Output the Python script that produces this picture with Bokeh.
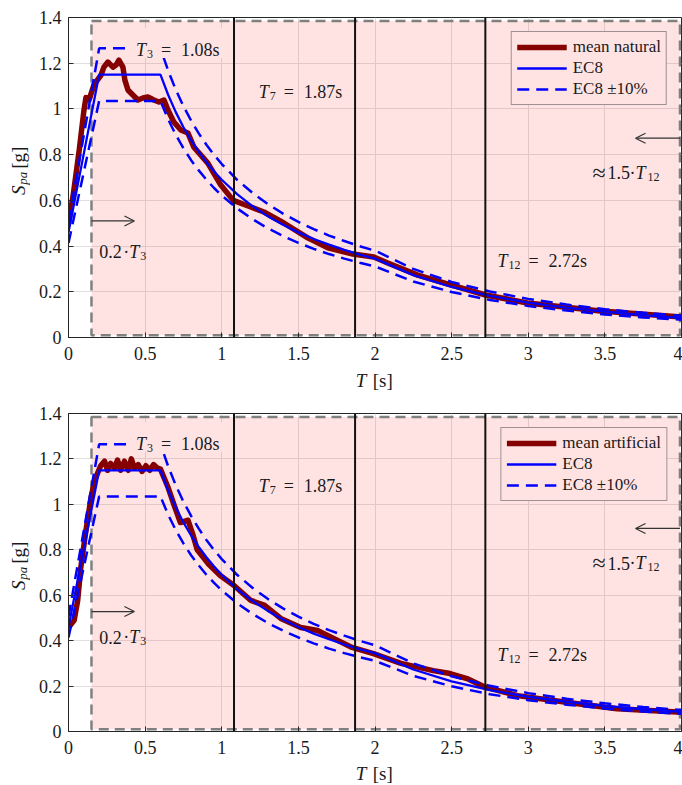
from math import pi

from bokeh.embed import file_html
from bokeh.layouts import column, row
from bokeh.models import (Arrow, BoxAnnotation, CustomJSTickFormatter, FixedTicker,
                          Label, Legend, OpenHead, Range1d, Span)
from bokeh.plotting import figure
from bokeh.resources import INLINE

# ---------------------------------------------------------------- data
# EC8 elastic design spectrum, periods [s] and pseudo-accelerations [g]
ec8_T = [0.0, 0.2, 0.6, 0.65, 0.7, 0.75, 0.8, 0.85, 0.9, 0.95, 1.0, 1.1, 1.2, 1.3, 1.4,
         1.5, 1.6, 1.7, 1.8, 1.9, 2.0, 2.25, 2.5, 2.75, 3.0, 3.25, 3.5, 3.75, 4.0]
ec8_Sa = [0.46, 1.15, 1.15, 1.062, 0.986, 0.92, 0.863, 0.812, 0.767, 0.726, 0.69, 0.627,
          0.575, 0.531, 0.493, 0.46, 0.431, 0.406, 0.383, 0.363, 0.345, 0.273, 0.221,
          0.182, 0.153, 0.131, 0.113, 0.098, 0.086]
ec8_upper = [0.506, 1.265, 1.265, 1.168, 1.084, 1.012, 0.949, 0.893, 0.843, 0.799, 0.759,
             0.690, 0.633, 0.584, 0.542, 0.506, 0.474, 0.446, 0.422, 0.399, 0.380, 0.300,
             0.243, 0.201, 0.169, 0.144, 0.124, 0.108, 0.095]
ec8_lower = [0.414, 1.035, 1.035, 0.955, 0.887, 0.828, 0.776, 0.731, 0.690, 0.654, 0.621,
             0.565, 0.518, 0.478, 0.444, 0.414, 0.388, 0.365, 0.345, 0.327, 0.311, 0.245,
             0.199, 0.164, 0.138, 0.118, 0.101, 0.088, 0.078]

# mean spectrum of the natural records
nat_T = [0.0, 0.03, 0.07, 0.10, 0.114, 0.134, 0.166, 0.212, 0.231, 0.257, 0.29, 0.31,
         0.329, 0.355, 0.368, 0.388, 0.42, 0.453, 0.486, 0.518, 0.557, 0.59, 0.623, 0.649,
         0.688, 0.733, 0.779, 0.818, 0.909, 0.994, 1.075, 1.19, 1.275, 1.405, 1.561, 1.692,
         1.855, 1.992, 2.083, 2.279, 2.494, 2.722, 2.995, 3.471, 4.0]
nat_Sa = [0.50, 0.62, 0.82, 0.99, 1.05, 1.04, 1.105, 1.148, 1.183, 1.205, 1.183, 1.192,
          1.214, 1.183, 1.126, 1.083, 1.061, 1.039, 1.048, 1.052, 1.039, 1.03, 1.039, 0.995,
          0.942, 0.908, 0.895, 0.833, 0.763, 0.667, 0.60, 0.571, 0.549, 0.501, 0.436, 0.392,
          0.365, 0.352, 0.326, 0.273, 0.230, 0.186, 0.151, 0.116, 0.09]

# mean spectrum of the artificial records
art_T = [0.0, 0.037, 0.06, 0.08, 0.114, 0.147, 0.17, 0.21, 0.235, 0.255, 0.275, 0.30,
         0.32, 0.34, 0.365, 0.39, 0.41, 0.43, 0.455, 0.48, 0.505, 0.53, 0.555, 0.58,
         0.60, 0.65, 0.69, 0.73, 0.78, 0.81, 0.84, 0.91, 0.99, 1.08, 1.19, 1.28, 1.385,
         1.515, 1.625, 1.73, 1.85, 1.99, 2.17, 2.38, 2.49, 2.60, 2.72, 2.93, 3.26, 3.58, 4.0]
art_Sa = [0.458, 0.49, 0.577, 0.72, 0.885, 1.03, 1.105, 1.17, 1.19, 1.15, 1.18, 1.16,
          1.195, 1.15, 1.19, 1.15, 1.20, 1.16, 1.175, 1.145, 1.17, 1.15, 1.175, 1.16,
          1.155, 1.074, 0.995, 0.92, 0.93, 0.87, 0.80, 0.74, 0.687, 0.643, 0.577, 0.555, 0.498,
          0.458, 0.445, 0.41, 0.37, 0.343, 0.30, 0.268, 0.255, 0.233, 0.195, 0.158, 0.128, 0.10, 0.085]

# modal periods [s]
T3, T7, T12 = 1.08, 1.87, 2.72
modal_periods = [T3, T7, T12]

# period range of interest [s] and its vertical extent [g]
range_T = [0.15, 3.99]
range_Sa = [0.01, 1.385]

x_ticks = [0, 0.5, 1, 1.5, 2, 2.5, 3, 3.5, 4]
y_ticks = [0, 0.2, 0.4, 0.6, 0.8, 1.0, 1.2, 1.4]

# ---------------------------------------------------------------- style
FONT = "Liberation Serif"
INK = "#1a1a1a"
AXIS = "#262626"
RED = "#850000"
BLUE = "#0000ff"
PINK = "#ffe3e3"
W = 682
YLAB_W = 30      # strip holding the rotated y title
LEFT = 68        # left edge of the plotting frame


def put(p, x, y, pieces, angle=0.0):
    """Compose a label from pieces (text, italic, dx, dy, size) with screen offsets."""
    for txt, italic, dx, dy, size in pieces:
        p.add_layout(Label(x=x, y=y, text=txt, x_offset=dx, y_offset=dy, angle=angle,
                           text_font=FONT, text_font_size=f"{size}px",
                           text_font_style="italic" if italic else "normal",
                           text_baseline="alphabetic", text_align="left",
                           text_color=INK))


def blank(width, height, x_range, y_range, **borders):
    f = figure(width=width, height=height, x_range=x_range, y_range=y_range,
               x_axis_type=None, y_axis_type=None, output_backend="svg",
               toolbar_location=None, min_border=0, **borders)
    f.outline_line_color = None
    f.grid.visible = False
    f.background_fill_color = "white"
    f.border_fill_color = "white"
    return f


def panel(mean_T, mean_Sa, mean_label, top, lab):
    height = top + lab["frame"] + 30
    p = figure(width=W - YLAB_W, height=height, x_range=Range1d(0, 4), y_range=Range1d(0, 1.4),
               output_backend="svg", toolbar_location=None,
               min_border_left=LEFT - YLAB_W, min_border_right=1,
               min_border_top=top, min_border_bottom=30)
    p.background_fill_color = "white"
    p.border_fill_color = "white"
    p.outline_line_color = AXIS
    p.outline_line_width = 1

    p.xaxis.ticker = FixedTicker(ticks=x_ticks)
    p.yaxis.ticker = FixedTicker(ticks=y_ticks)
    for ax in (p.xaxis[0], p.yaxis[0]):
        ax.formatter = CustomJSTickFormatter(code="return String(Number(tick.toFixed(2)));")
        ax.major_tick_in = 5
        ax.major_tick_out = 0
        ax.minor_tick_in = 0
        ax.minor_tick_out = 0
        ax.axis_line_color = AXIS
        ax.major_tick_line_color = AXIS
        ax.major_label_text_font = FONT
        ax.major_label_text_font_size = "18px"
        ax.major_label_text_color = INK
    p.xaxis.major_label_standoff = 9
    p.yaxis.major_label_standoff = 7
    p.grid.grid_line_color = "#e0e0e0"
    p.grid.grid_line_width = 1

    # period range of interest
    p.quad(left=[range_T[0]], right=[range_T[1]], bottom=[range_Sa[0]], top=[range_Sa[1]],
           fill_color="red", fill_alpha=0.11, line_color="#808080",
           line_dash="10 6", line_width=2.5)

    r_mean = p.line(mean_T, mean_Sa, line_color=RED, line_width=5.5, line_join="round")
    r_ec8 = p.line(ec8_T, ec8_Sa, line_color=BLUE, line_width=2.3)
    r_up = p.line(ec8_T, ec8_upper, line_color=BLUE, line_width=2.5, line_dash="12 7")
    p.line(ec8_T, ec8_lower, line_color=BLUE, line_width=2.5, line_dash="12 7")

    for t in modal_periods:
        p.add_layout(Span(location=t, dimension="height", line_color="#111111", line_width=2))

    # background behind the T3 label
    p.add_layout(BoxAnnotation(left=lab["t3"][0] - 0.05, right=lab["t3"][0] + 0.58,
                               bottom=lab["t3"][1] - 0.035, top=lab["t3"][1] + 0.095,
                               fill_color=PINK, fill_alpha=1.0, line_alpha=0))

    put(p, lab["t3"][0], lab["t3"][1],
        [("T", True, 0, 0, 18), ("3", False, 11, -4, 12),
         ("=", False, 25, 0, 18), (f"{T3:.2f}s", False, 45, 0, 18)])
    put(p, lab["t7"][0], lab["t7"][1],
        [("T", True, 0, 0, 18), ("7", False, 11, -4, 12),
         ("=", False, 25, 0, 18), (f"{T7:.2f}s", False, 45, 0, 18)])
    put(p, lab["t12"][0], lab["t12"][1],
        [("T", True, 0, 0, 18), ("12", False, 11, -4, 12),
         ("=", False, 31, 0, 18), (f"{T12:.2f}s", False, 51, 0, 18)])
    put(p, 0.2, lab["low"][1],
        [("0.2", False, 0, 0, 18), ("\u00b7", False, 24, 0, 18),
         ("T", True, 30, 0, 18), ("3", False, 41, -4, 12)])
    put(p, 3.42, lab["high"][1],
        [("\u2248", False, 0, 0, 24), ("1.5", False, 15, 0, 18),
         ("\u00b7", False, 37, 0, 18), ("T", True, 43, 0, 18), ("12", False, 55, -4, 12)])

    p.add_layout(Arrow(x_start=range_T[0], y_start=lab["low"][0], x_end=0.43, y_end=lab["low"][0],
                       line_color="#333333", line_width=1.2,
                       end=OpenHead(size=10, line_color="#333333", line_width=1.2)))
    p.add_layout(Arrow(x_start=range_T[1], y_start=lab["high"][0], x_end=3.70, y_end=lab["high"][0],
                       line_color="#333333", line_width=1.2,
                       end=OpenHead(size=10, line_color="#333333", line_width=1.2)))

    legend = Legend(items=[(mean_label, [r_mean]), ("EC8", [r_ec8]), ("EC8 \u00b110%", [r_up])],
                    location="top_right", label_text_font=FONT, label_text_font_size="17px",
                    label_text_color=INK, glyph_width=50, glyph_height=20, label_height=20,
                    spacing=1, padding=5, margin=14, label_standoff=6,
                    border_line_color="#404040", border_line_width=1,
                    background_fill_color=PINK, background_fill_alpha=1.0)
    p.add_layout(legend)

    # rotated y title  S_pa [g]
    yl = blank(YLAB_W, height, Range1d(0, YLAB_W), p.y_range,
               min_border_top=top, min_border_bottom=30)
    for txt, italic, xb, yv, size in [("S", True, 18, lab["yl"], 19),
                                      ("pa", True, 22, lab["yl"] + 0.045, 13),
                                      ("[g]", False, 18, lab["yl"] + 0.115, 19)]:
        yl.add_layout(Label(x=xb, y=yv, text=txt, angle=pi / 2, text_font=FONT,
                            text_font_size=f"{size}px",
                            text_font_style="italic" if italic else "normal",
                            text_baseline="alphabetic", text_align="left", text_color=INK))

    # x title  T [s]
    xl = blank(W, lab["xl_h"], p.x_range, Range1d(0, lab["xl_h"]),
               min_border_left=LEFT, min_border_right=1)
    put(xl, 1.874, lab["xl_base"], [("T", True, 0, 0, 19), ("[s]", False, 17, 0, 19)])

    return column(row(yl, p, spacing=0), xl, spacing=0)


top = panel(nat_T, nat_Sa, "mean natural", 17,
            {"frame": 320, "t3": (0.44, 1.258), "t7": (1.242, 1.075), "t12": (2.80, 0.336),
             "low": (0.51, 0.375), "high": (0.872, 0.72), "yl": 0.623,
             "xl_h": 28, "xl_base": 15})
bot = panel(art_T, art_Sa, "mean artificial", 18,
            {"frame": 318, "t3": (0.44, 1.267), "t7": (1.242, 1.079), "t12": (2.80, 0.335),
             "low": (0.528, 0.415), "high": (0.894, 0.74), "yl": 0.623,
             "xl_h": 24, "xl_base": 12})

page = column(top, bot, spacing=0)
open("out.html", "w").write(file_html(page, INLINE))
